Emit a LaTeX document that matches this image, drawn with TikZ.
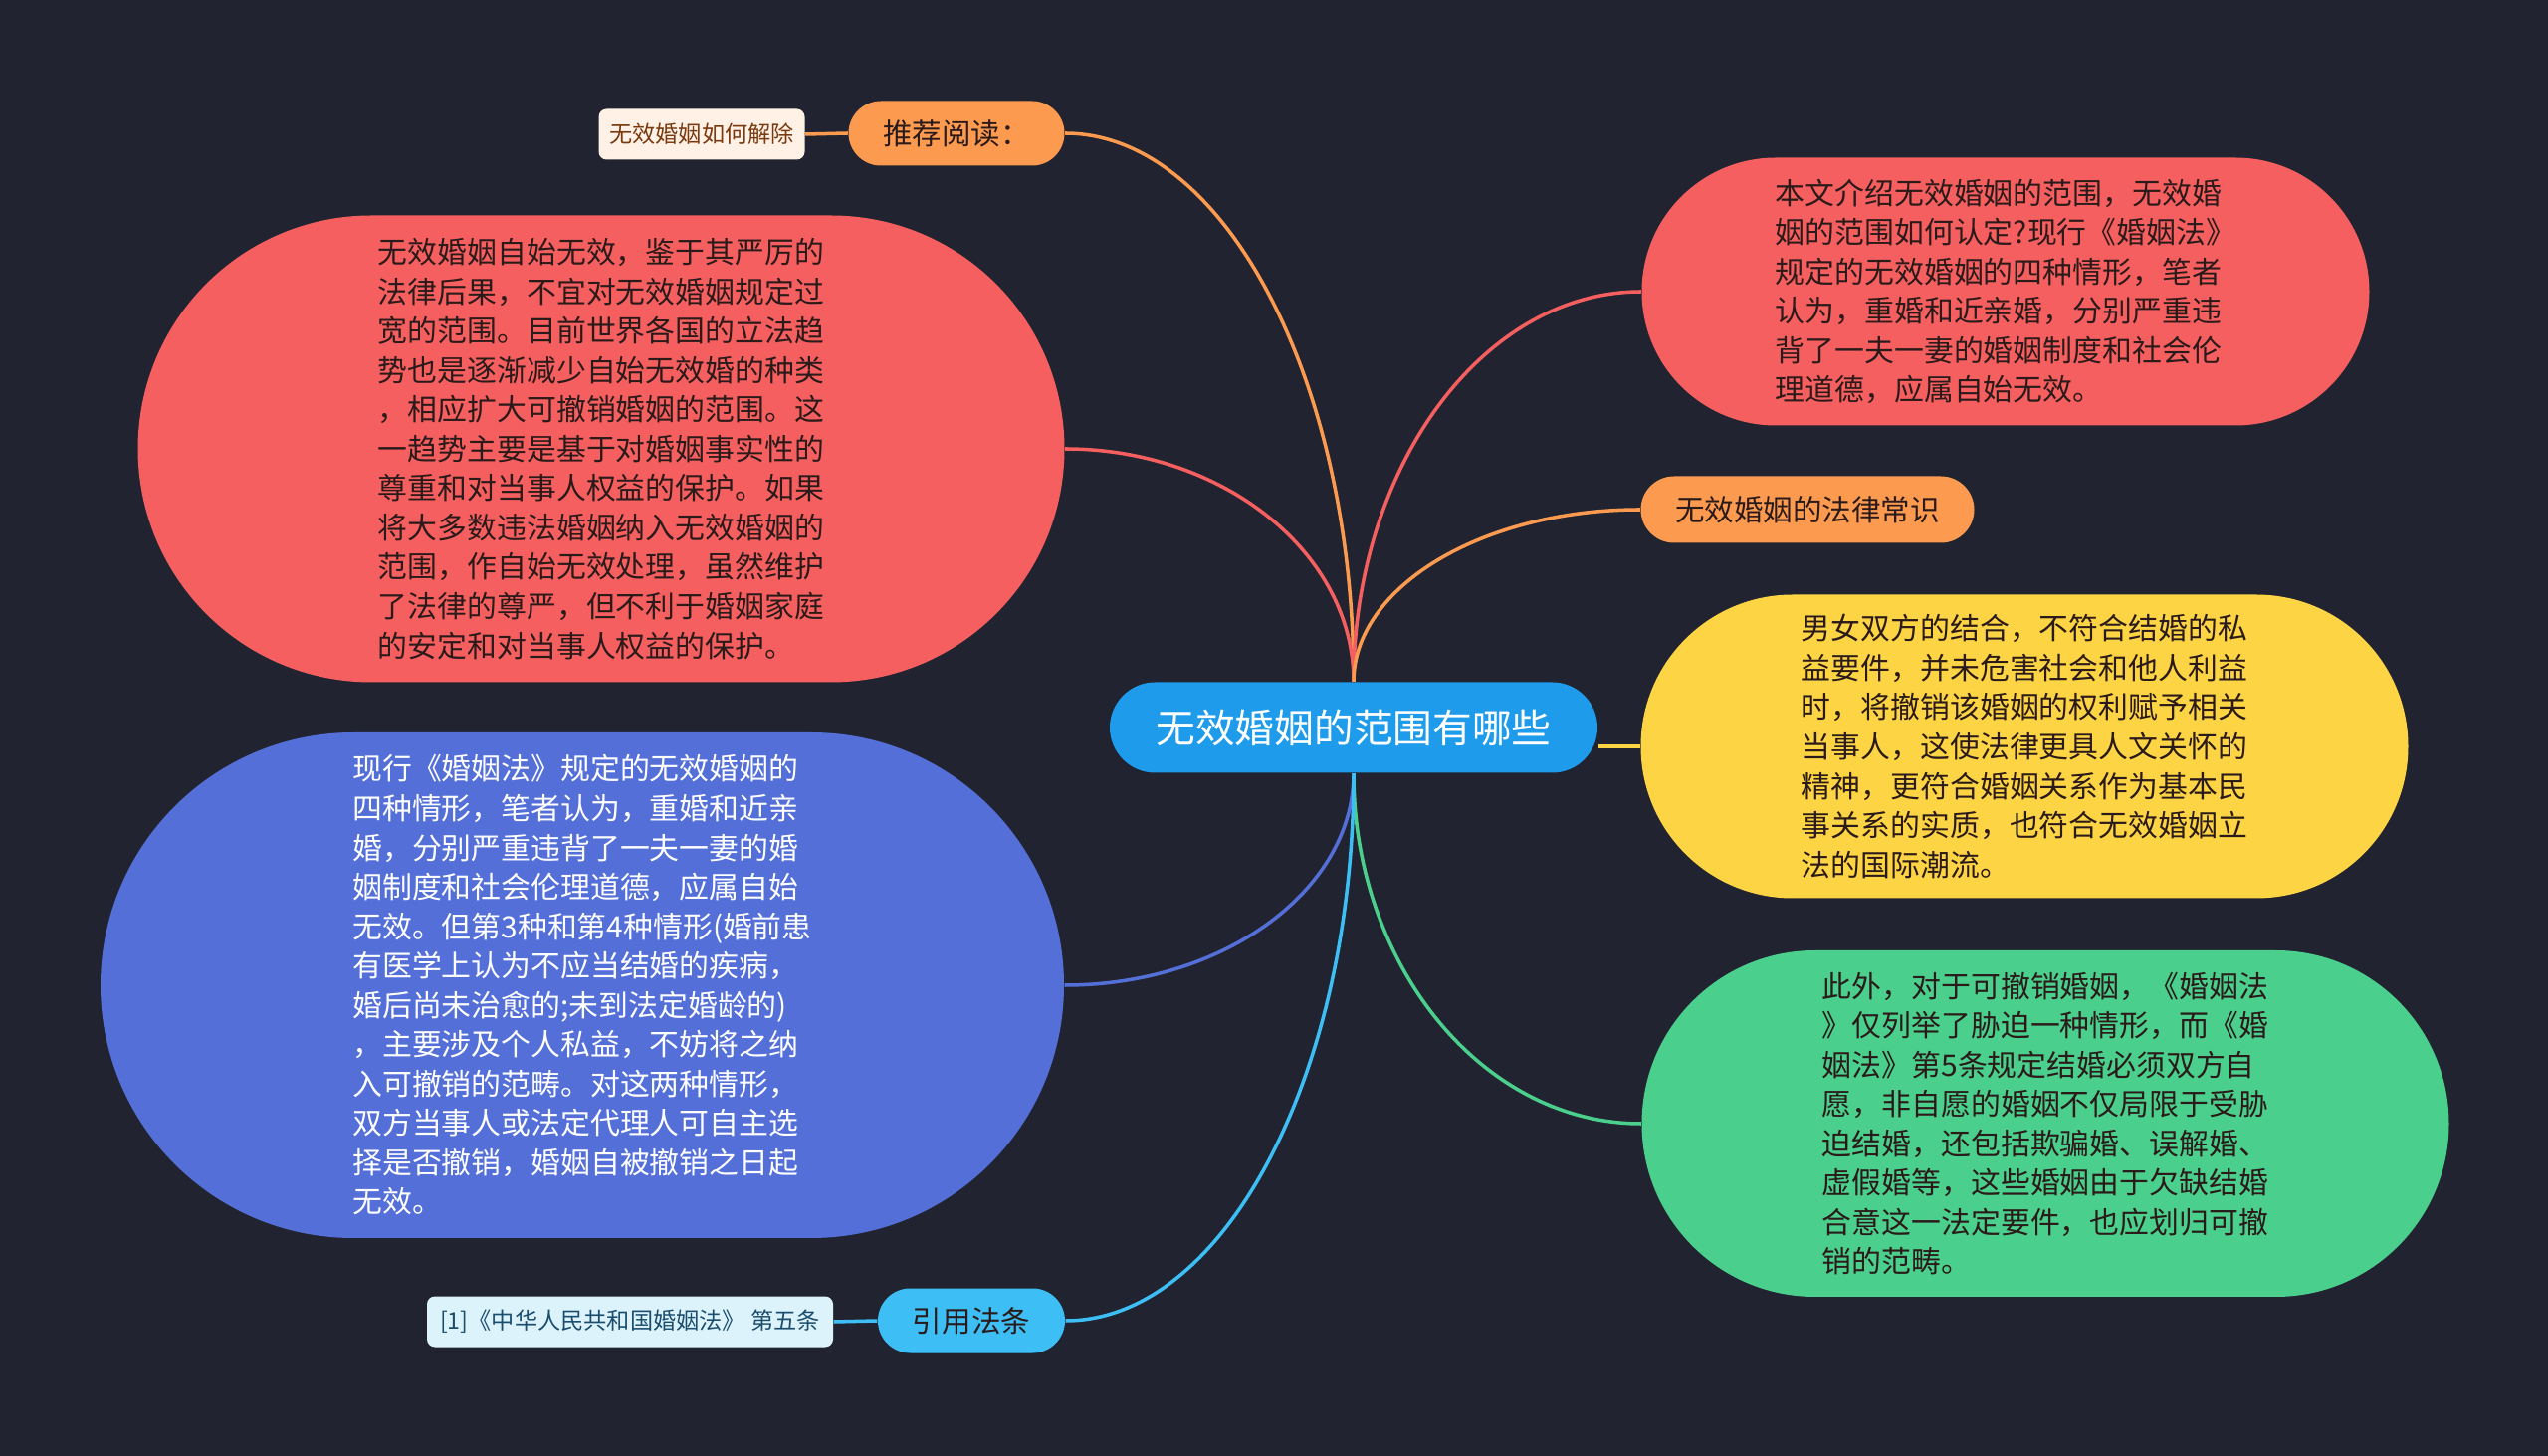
\documentclass[tikz,border=0pt]{standalone}
\usepackage{fontspec}
\usetikzlibrary{calc}
\setmainfont{Noto Sans CJK SC}
\definecolor{bg}{HTML}{212430}
\definecolor{rootblue}{HTML}{1E9BEA}
\definecolor{orangefill}{HTML}{FC9A50}
\definecolor{redfill}{HTML}{F65F5F}
\definecolor{yellowfill}{HTML}{FDD444}
\definecolor{greenfill}{HTML}{4ACF8C}
\definecolor{purplefill}{HTML}{5470D8}
\definecolor{skyfill}{HTML}{3DBEF5}
\definecolor{peach}{HTML}{FFF1E6}
\definecolor{brown}{HTML}{7A3A10}
\definecolor{icy}{HTML}{DDF3FC}
\definecolor{navy}{HTML}{1B4E6E}
\definecolor{darktext}{HTML}{2B1A1A}
\begin{document}
\begin{tikzpicture}[x=0.1mm, y=-0.1mm,
    bubble/.style={rectangle, inner sep=0pt, align=left, font=\fontsize{8.5}{11.25}\selectfont},
    pill/.style={rectangle, inner sep=0pt, font=\fontsize{8.4}{10}\selectfont, text=darktext},
    tag/.style={rectangle, inner sep=0pt, rounded corners=0.8mm, minimum height=5.1mm, font=\fontsize{6.6}{8}\selectfont},
    link/.style={line width=1pt, draw=#1}]
    \useasboundingbox (0,0) rectangle (2560,1463);
    \fill[bg] (0,0) rectangle (2560,1463);

    % centre
    \node[rectangle, fill=rootblue, text=white, rounded corners=4.55mm, minimum width=49mm, minimum height=9.1mm,
          font=\fontsize{11.3}{13}\selectfont] (root) at (1360,731) {无效婚姻的范围有哪些};

    % gauche
    \node[pill, fill=orangefill, rounded corners=3.25mm, minimum width=21.7mm, minimum height=6.5mm] (read) at (961,134) {推荐阅读：};
    \node[tag, fill=peach, text=brown, minimum width=20.7mm] (readitem) at (705,135) {无效婚姻如何解除};
    \node[bubble, fill=redfill, text=darktext, rounded corners=23.45mm, minimum width=93.1mm, minimum height=46.9mm] (lred) at (604,451) {
        无效婚姻自始无效，鉴于其严厉的\\
        法律后果，不宜对无效婚姻规定过\\
        宽的范围。目前世界各国的立法趋\\
        势也是逐渐减少自始无效婚的种类\\
        ，相应扩大可撤销婚姻的范围。这\\
        一趋势主要是基于对婚姻事实性的\\
        尊重和对当事人权益的保护。如果\\
        将大多数违法婚姻纳入无效婚姻的\\
        范围，作自始无效处理，虽然维护\\
        了法律的尊严，但不利于婚姻家庭\\
        的安定和对当事人权益的保护。};
    \node[bubble, fill=purplefill, text=white, rounded corners=25.4mm, minimum width=96.8mm, minimum height=50.8mm] (blu) at (585,990) {
        现行《婚姻法》规定的无效婚姻的\\
        四种情形，笔者认为，重婚和近亲\\
        婚，分别严重违背了一夫一妻的婚\\
        姻制度和社会伦理道德，应属自始\\
        无效。但第3种和第4种情形(婚前患\\
        有医学上认为不应当结婚的疾病，\\
        婚后尚未治愈的;未到法定婚龄的)\\
        ，主要涉及个人私益，不妨将之纳\\
        入可撤销的范畴。对这两种情形，\\
        双方当事人或法定代理人可自主选\\
        择是否撤销，婚姻自被撤销之日起\\
        无效。};
    \node[pill, fill=skyfill, rounded corners=3.25mm, minimum width=18.8mm, minimum height=6.5mm] (cite) at (976,1327) {引用法条};
    \node[tag, fill=icy, text=navy, minimum width=40.8mm] (citeitem) at (633,1328) {[1]《中华人民共和国婚姻法》 第五条};

    % droite
    \node[bubble, fill=redfill, text=darktext, rounded corners=13.45mm, minimum width=73.1mm, minimum height=26.9mm] (rred) at (2015,293) {
        本文介绍无效婚姻的范围，无效婚\\
        姻的范围如何认定?现行《婚姻法》\\
        规定的无效婚姻的四种情形，笔者\\
        认为，重婚和近亲婚，分别严重违\\
        背了一夫一妻的婚姻制度和社会伦\\
        理道德，应属自始无效。};
    \node[pill, fill=orangefill, rounded corners=3.35mm, minimum width=33.5mm, minimum height=6.7mm] (law) at (1816,512) {无效婚姻的法律常识};
    \node[bubble, fill=yellowfill, text=darktext, rounded corners=15.25mm, minimum width=77.1mm, minimum height=30.5mm] (yel) at (2034,750) {
        男女双方的结合，不符合结婚的私\\
        益要件，并未危害社会和他人利益\\
        时，将撤销该婚姻的权利赋予相关\\
        当事人，这使法律更具人文关怀的\\
        精神，更符合婚姻关系作为基本民\\
        事关系的实质，也符合无效婚姻立\\
        法的国际潮流。};
    \node[bubble, fill=greenfill, text=darktext, rounded corners=17.4mm, minimum width=81.1mm, minimum height=34.8mm] (grn) at (2055,1129) {
        此外，对于可撤销婚姻，《婚姻法\\
        》仅列举了胁迫一种情形，而《婚\\
        姻法》第5条规定结婚必须双方自\\
        愿，非自愿的婚姻不仅局限于受胁\\
        迫结婚，还包括欺骗婚、误解婚、\\
        虚假婚等，这些婚姻由于欠缺结婚\\
        合意这一法定要件，也应划归可撤\\
        销的范畴。};

    % liens
    \foreach \tgt/\col/\side in {read/orangefill/east, lred/redfill/east, rred/redfill/west, law/orangefill/west}
        \draw[link=\col] (root.north) .. controls ($(root.north)!0.55!(root.north |- \tgt.\side)$)
            and ($(\tgt.\side)!0.55!(root.north |- \tgt.\side)$) .. (\tgt.\side);
    \foreach \tgt/\col/\side in {blu/purplefill/east, grn/greenfill/west, cite/skyfill/east}
        \draw[link=\col] (root.south) .. controls ($(root.south)!0.55!(root.south |- \tgt.\side)$)
            and ($(\tgt.\side)!0.55!(root.south |- \tgt.\side)$) .. (\tgt.\side);
    \draw[link=yellowfill] (root.east |- yel.west) -- (yel.west);
    \draw[link=orangefill] (read.west) -- (readitem.east);
    \draw[link=skyfill] (cite.west) -- (citeitem.east);
\end{tikzpicture}
\end{document}
